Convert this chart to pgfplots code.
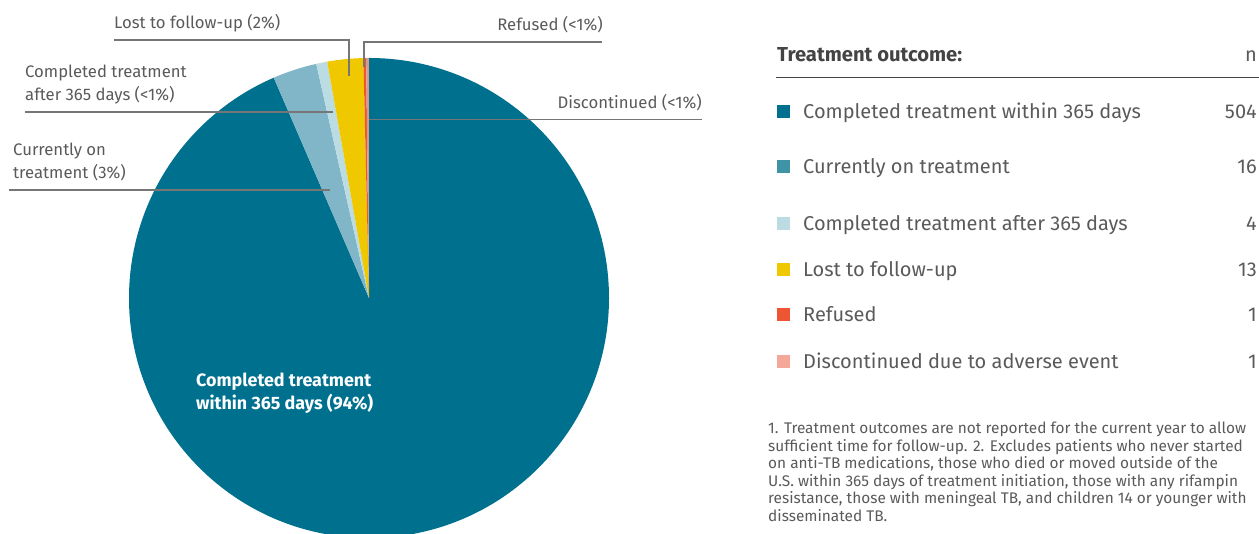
\documentclass[border=0pt]{standalone}
\usepackage{pgfplots}
\pgfplotsset{compat=1.18}
\usepackage{fontspec}
\setmainfont{Fira Sans}
\definecolor{cDark}{HTML}{00708F}
\definecolor{cCur}{HTML}{80B6C8}
\definecolor{cCurL}{HTML}{3E94A6}
\definecolor{cAfter}{HTML}{BCDCE4}
\definecolor{cLost}{HTML}{F0C800}
\definecolor{cRef}{HTML}{EE5533}
\definecolor{cDisc}{HTML}{F5A899}
\definecolor{tGrey}{HTML}{5A5A5A}
\definecolor{lGrey}{HTML}{767676}
\definecolor{hGrey}{HTML}{444444}
% data: counts per outcome
\def\vA{504}\def\vB{16}\def\vC{4}\def\vD{13}\def\vE{1}\def\vF{1}
\pgfmathsetmacro\tot{\vA+\vB+\vC+\vD+\vE+\vF}
\pgfmathsetmacro\aA{90}
\pgfmathsetmacro\aB{\aA-\vA/\tot*360}
\pgfmathsetmacro\aC{\aB-\vB/\tot*360}
\pgfmathsetmacro\aD{\aC-\vC/\tot*360}
\pgfmathsetmacro\aE{\aD-\vD/\tot*360}
\pgfmathsetmacro\aF{\aE-\vE/\tot*360}
\pgfmathsetmacro\aG{\aF-\vF/\tot*360}
\newcommand\lab{\fontsize{16.7}{20}\selectfont}
\newcommand\wlab{\fontsize{17.9}{20}\selectfont}
\newcommand\leg{\fontsize{20}{24}\selectfont}
\newcommand\hdr{\fontsize{20.2}{24}\selectfont}
\newcommand\foot{\fontsize{15.4}{17.5}\selectfont}
\begin{document}
\begin{tikzpicture}
\begin{axis}[x=1pt,y=1pt,xmin=0,xmax=1259,ymin=0,ymax=534,hide axis,
  clip=true,at={(0,0)},anchor=south west,scale only axis]
% pie wedges
\fill[cDark] (axis cs:369,236) -- ++(\aA:240pt) arc[start angle=\aA,end angle=\aB,radius=240pt] -- cycle;
\fill[cCur] (axis cs:369,236) -- ++(\aB:240pt) arc[start angle=\aB,end angle=\aC,radius=240pt] -- cycle;
\fill[cAfter] (axis cs:369,236) -- ++(\aC:240pt) arc[start angle=\aC,end angle=\aD,radius=240pt] -- cycle;
\fill[cLost] (axis cs:369,236) -- ++(\aD:240pt) arc[start angle=\aD,end angle=\aE,radius=240pt] -- cycle;
\fill[cRef] (axis cs:369,236) -- ++(\aE:240pt) arc[start angle=\aE,end angle=\aF,radius=240pt] -- cycle;
\fill[cDisc!70!gray] (axis cs:369,236) -- ++(\aF:240pt) arc[start angle=\aF,end angle=\aG,radius=240pt] -- cycle;
% leader lines
\draw[lGrey,line width=1.3pt] (axis cs:114,494) -- (axis cs:349,494) -- (axis cs:349,458);
\draw[lGrey,line width=1.3pt] (axis cs:602,492) -- (axis cs:364,492) -- (axis cs:364,467);
\draw[lGrey,line width=1.3pt] (axis cs:702,414.5) -- (axis cs:369,414.5);
\draw[lGrey,line width=1.3pt] (axis cs:25,422) -- (axis cs:333,422);
\draw[lGrey,line width=1.3pt] (axis cs:9,344) -- (axis cs:330,344);
% pie labels
\node[anchor=base west,inner sep=0,text=tGrey,font=\lab] at (axis cs:114,505.7) {Lost to follow-up (2\%)};
\node[anchor=base east,inner sep=0,text=tGrey,font=\lab] at (axis cs:603,503.5) {Refused (<1\%)};
\node[anchor=base east,inner sep=0,text=tGrey,font=\lab] at (axis cs:702,425.7) {Discontinued (<1\%)};
\node[anchor=base west,inner sep=0,text=tGrey,font=\lab] at (axis cs:25,456.7) {Completed treatment};
\node[anchor=base west,inner sep=0,text=tGrey,font=\lab] at (axis cs:25,433) {after 365 days (<1\%)};
\node[anchor=base west,inner sep=0,text=tGrey,font=\lab] at (axis cs:13,378.7) {Currently on};
\node[anchor=base west,inner sep=0,text=tGrey,font=\lab] at (axis cs:13,355) {treatment (3\%)};
\node[anchor=base west,inner sep=0,text=white,font=\wlab\bfseries] at (axis cs:196,147.3) {Completed treatment};
\node[anchor=base west,inner sep=0,text=white,font=\wlab\bfseries] at (axis cs:196,124) {within 365 days (94\%)};
% legend table
\node[anchor=base west,inner sep=0,text=hGrey,font=\hdr\bfseries] at (axis cs:777,472.3) {Treatment outcome:};
\node[anchor=base east,inner sep=0,text=tGrey,font=\leg] at (axis cs:1257,472.3) {n};
\draw[hGrey,line width=1.5pt] (axis cs:776,456.3) -- (axis cs:1259,456.3);
\fill[cDark] (axis cs:777,415.8) rectangle (axis cs:790,428.8);
\fill[cCurL] (axis cs:777,360.8) rectangle (axis cs:790,373.8);
\fill[cAfter] (axis cs:777,304.2) rectangle (axis cs:790,317.2);
\fill[cLost] (axis cs:777,258.2) rectangle (axis cs:790,271.2);
\fill[cRef] (axis cs:777,212.5) rectangle (axis cs:790,225.5);
\fill[cDisc] (axis cs:777,165.8) rectangle (axis cs:790,178.8);
\node[anchor=base west,inner sep=0,text=tGrey,font=\leg] at (axis cs:803,415.3) {Completed treatment within 365 days};
\node[anchor=base west,inner sep=0,text=tGrey,font=\leg] at (axis cs:803,360.3) {Currently on treatment};
\node[anchor=base west,inner sep=0,text=tGrey,font=\leg] at (axis cs:803,303.7) {Completed treatment after 365 days};
\node[anchor=base west,inner sep=0,text=tGrey,font=\leg] at (axis cs:803,257.7) {Lost to follow-up};
\node[anchor=base west,inner sep=0,text=tGrey,font=\leg] at (axis cs:803,212) {Refused};
\node[anchor=base west,inner sep=0,text=tGrey,font=\leg] at (axis cs:803,165.3) {Discontinued due to adverse event};
\node[anchor=base east,inner sep=0,text=tGrey,font=\leg] at (axis cs:1257,415.3) {\vA};
\node[anchor=base east,inner sep=0,text=tGrey,font=\leg] at (axis cs:1257,360.3) {\vB};
\node[anchor=base east,inner sep=0,text=tGrey,font=\leg] at (axis cs:1257,303.7) {\vC};
\node[anchor=base east,inner sep=0,text=tGrey,font=\leg] at (axis cs:1257,257.7) {\vD};
\node[anchor=base east,inner sep=0,text=tGrey,font=\leg] at (axis cs:1257,212) {\vE};
\node[anchor=base east,inner sep=0,text=tGrey,font=\leg] at (axis cs:1257,165.3) {\vF};
% footnote
\node[anchor=base west,inner sep=0,text=tGrey,font=\foot] at (axis cs:768,100) {1. Treatment outcomes are not reported for the current year to allow};
\node[anchor=base west,inner sep=0,text=tGrey,font=\foot] at (axis cs:768,82.5) {sufficient time for follow-up. 2. Excludes patients who never started};
\node[anchor=base west,inner sep=0,text=tGrey,font=\foot] at (axis cs:768,65) {on anti-TB medications, those who died or moved outside of the};
\node[anchor=base west,inner sep=0,text=tGrey,font=\foot] at (axis cs:768,47.5) {U.S. within 365 days of treatment initiation, those with any rifampin};
\node[anchor=base west,inner sep=0,text=tGrey,font=\foot] at (axis cs:768,30) {resistance, those with meningeal TB, and children 14 or younger with};
\node[anchor=base west,inner sep=0,text=tGrey,font=\foot] at (axis cs:768,12.5) {disseminated TB.};
\end{axis}
\pgfresetboundingbox
\useasboundingbox (0,0) rectangle (1259pt,534pt);
\end{tikzpicture}
\end{document}
